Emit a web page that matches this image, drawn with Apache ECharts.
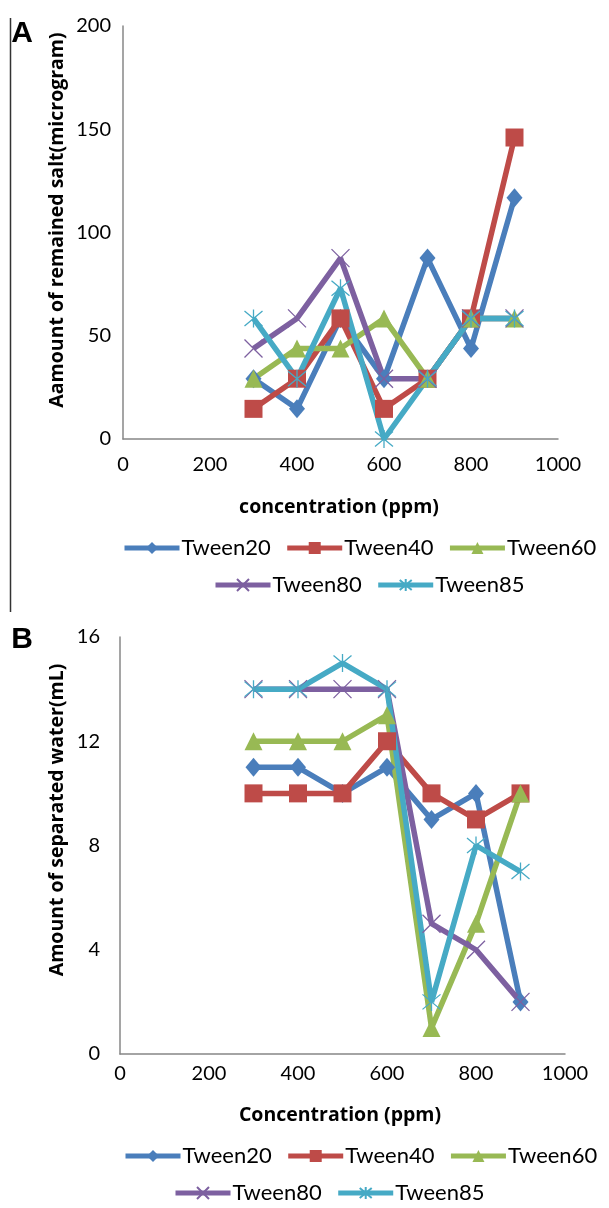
<!DOCTYPE html>
<html><head><meta charset="utf-8">
<script src="https://cdn.jsdelivr.net/npm/echarts@6/dist/echarts.min.js"></script>
<style>html,body{margin:0;padding:0;background:#fff}#c{width:609px;height:1208px}</style>
</head><body><div id="c"></div>
<script>
const concentrations = [300, 400, 500, 600, 700, 800, 900];
const seriesNames = ['Tween20', 'Tween40', 'Tween60', 'Tween80', 'Tween85'];
// Panel A: amount of remained salt (microgram)
const saltTween20 = [29.2, 14.6, 58.4, 29.2, 87.6, 43.8, 116.8];
const saltTween40 = [14.6, 29.2, 58.4, 14.6, 29.2, 58.4, 146];
const saltTween60 = [29.2, 43.8, 43.8, 58.4, 29.2, 58.4, 58.4];
const saltTween80 = [43.8, 58.4, 87.6, 29.2, 29.2, 58.4, 58.4];
const saltTween85 = [58.4, 29.2, 73, 0, 29.2, 58.4, 58.4];
// Panel B: amount of separated water (mL)
const waterTween20 = [11, 11, 10, 11, 9, 10, 2];
const waterTween40 = [10, 10, 10, 12, 10, 9, 10];
const waterTween60 = [12, 12, 12, 13, 1, 5, 10];
const waterTween80 = [14, 14, 14, 14, 5, 4, 2];
const waterTween85 = [14, 14, 15, 14, 2, 8, 7];
const xTicks = [0, 200, 400, 600, 800, 1000];
const saltTicks = [0, 50, 100, 150, 200];
const waterTicks = [0, 4, 8, 12, 16];

const colors = ['#4A7EBB', '#BE4B48', '#98B954', '#7D60A0', '#46AAC5'];
const symbols = ['diamond', 'rect', 'triangle',
  'path://M0,0L10,10M10,0L0,10',
  'path://M0,0L10,10M10,0L0,10M5,-1L5,11'];
const symSizes = [[16, 19], 18, 18, 18, 18];
const salt = [saltTween20, saltTween40, saltTween60, saltTween80, saltTween85];
const water = [waterTween20, waterTween40, waterTween60, waterTween80, waterTween85];

const FONT = 'Lato';
const TFONT = 'Open Sans';
function mkSeries(arr, gi) {
  return arr.map((vals, i) => ({
    name: seriesNames[i], type: 'line', xAxisIndex: gi, yAxisIndex: gi,
    data: vals.map((v, k) => [concentrations[k], v]),
    symbol: symbols[i], symbolSize: symSizes[i],
    lineStyle: { color: colors[i], width: 5.5 },
    itemStyle: i < 3 ? { color: colors[i] } : { color: colors[i], borderColor: colors[i], borderWidth: 1.3 },
    emphasis: { disabled: true }, animation: false
  }));
}
function xAx(gi, margin) {
  return { type: 'value', gridIndex: gi, min: 0, max: 1000, interval: 200,
    axisLine: { lineStyle: { color: '#878787', width: 1.5 } }, axisTick: { show: false },
    splitLine: { show: false },
    axisLabel: { fontFamily: FONT, fontSize: 20, color: '#000', margin: margin,
      formatter: v => xTicks.includes(v) ? String(v) : '' } };
}
function yAx(gi, max, interval, ticks, margin) {
  return { type: 'value', gridIndex: gi, min: 0, max: max, interval: interval,
    axisLine: { show: true, lineStyle: { color: '#878787', width: 1.5 } }, axisTick: { show: false },
    splitLine: { show: false },
    axisLabel: { fontFamily: FONT, fontSize: 20, color: '#000', margin: margin,
      formatter: v => ticks.includes(v) ? String(v) : '' } };
}
function legendRow(names, left, top) {
  return { data: names, left: left, top: top, orient: 'horizontal', padding: 0,
    itemWidth: 55, itemHeight: 15, itemGap: 14, selectedMode: false,
    lineStyle: { width: 5 },
    textStyle: { fontFamily: FONT, fontSize: 22, color: '#000', padding: [0, 0, 0, -3] } };
}
const chart = echarts.init(document.getElementById('c'), null, { renderer: 'canvas' });
chart.setOption({
  animation: false,
  grid: [
    { left: 123, top: 26, width: 435, height: 413 },
    { left: 120, top: 637, width: 445, height: 417 }
  ],
  xAxis: [xAx(0, 16), xAx(1, 10)],
  yAxis: [yAx(0, 200, 50, saltTicks, 12), yAx(1, 16, 4, waterTicks, 20)],
  legend: [
    legendRow(['Tween20', 'Tween40', 'Tween60'], 122, 537),
    legendRow(['Tween80', 'Tween85'], 213, 574),
    legendRow(['Tween20', 'Tween40', 'Tween60'], 123, 1145),
    legendRow(['Tween80', 'Tween85'], 173, 1182)
  ],
  series: mkSeries(salt, 0).concat(mkSeries(water, 1)),
  graphic: [
    { type: 'line', shape: { x1: 10.5, y1: 18, x2: 10.5, y2: 612 }, style: { stroke: '#333', lineWidth: 1.5 } },
    { type: 'text', x: 22, y: 34, style: { text: 'A', fontFamily: 'Liberation Sans', fontWeight: 'bold', fontSize: 30, fill: '#000', align: 'center', verticalAlign: 'middle' } },
    { type: 'text', x: 22, y: 640, style: { text: 'B', fontFamily: 'Liberation Sans', fontWeight: 'bold', fontSize: 30, fill: '#000', align: 'center', verticalAlign: 'middle' } },
    { type: 'text', x: 57, y: 220, rotation: Math.PI / 2, style: { text: 'Aamount of remained salt(microgram)', fontFamily: TFONT, fontWeight: 'bold', fontSize: 19.5, fill: '#000', align: 'center', verticalAlign: 'middle' } },
    { type: 'text', x: 339, y: 507, style: { text: 'concentration (ppm)', fontFamily: TFONT, fontWeight: 'bold', fontSize: 19.5, fill: '#000', align: 'center', verticalAlign: 'middle' } },
    { type: 'text', x: 57, y: 820, rotation: Math.PI / 2, style: { text: 'Amount of separated water(mL)', fontFamily: TFONT, fontWeight: 'bold', fontSize: 19.5, fill: '#000', align: 'center', verticalAlign: 'middle' } },
    { type: 'text', x: 340, y: 1115, style: { text: 'Concentration (ppm)', fontFamily: TFONT, fontWeight: 'bold', fontSize: 19.5, fill: '#000', align: 'center', verticalAlign: 'middle' } }
  ]
});
</script></body></html>
